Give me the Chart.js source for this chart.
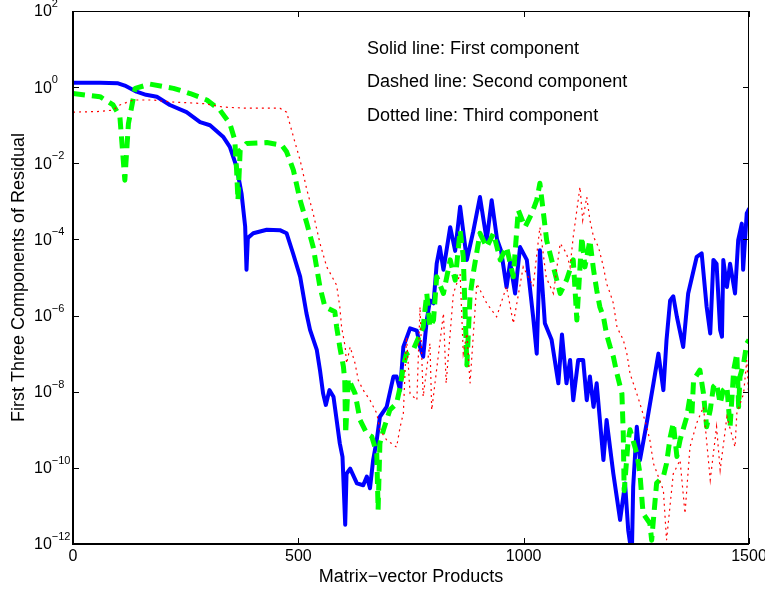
<!DOCTYPE html>
<html>
<head>
<meta charset="utf-8">
<script src="https://cdn.jsdelivr.net/npm/chart.js@4.4.1/dist/chart.umd.min.js"></script>
<style>
  html, body { margin: 0; padding: 0; background: #fff; }
  canvas { display: block; }
</style>
</head>
<body>
<canvas id="residualChart" width="765" height="590"></canvas>
<script>
// [matrix-vector products, residual component]
const firstComponent = [
  [0,1.3],[60,1.3],[100,1.26],[115,1.1],[141,0.76],[162,0.63],[186,0.56],[215,0.34],[252,0.22],[282,0.12],
  [304,0.1],[333,0.05],[348,0.027],[363,0.008],[374,1.6e-3],[382,2.2e-4],[385,1.6e-5],[388,1.1e-4],[400,1.45e-4],
  [430,1.8e-4],[459,1.75e-4],[474,1.45e-4],[488,4.4e-5],[504,1.05e-5],[518,1.15e-6],[526,4.2e-7],[541,1.25e-7],
  [548,3.7e-8],[555,8.9e-9],[561,4.5e-9],[569,1.1e-8],[578,7.4e-9],[585,1.8e-9],[592,4.4e-10],[598,1.95e-10],
  [604,3.2e-12],[607,7e-11],[615,9.5e-11],[630,3.9e-11],[644,3.5e-11],[652,5.9e-11],[659,2.9e-11],[666,1.6e-10],
  [674,5.4e-10],[681,2.2e-9],[696,4e-9],[711,2.5e-8],[718,2.5e-8],[726,1.1e-8],[733,1.5e-7],[748,4.6e-7],[763,4e-7],
  [770,1.5e-7],[777,8.3e-8],[785,7.6e-7],[792,2.5e-6],[800,2.1e-6],[807,2.3e-5],[814,6.3e-5],[822,1.6e-5],
  [837,2.1e-4],[848,5e-5],[859,7.2e-4],[874,2.9e-5],[888,1.6e-4],[903,1.3e-3],[918,9.5e-5],[929,1.07e-3],
  [941,1e-4],[950,5e-5],[962,5.6e-6],[970,2.5e-5],[981,3.8e-6],[992,6.3e-5],[1007,2.9e-5],[1021,9.3e-7],
  [1029,1e-7],[1036,5.2e-5],[1047,6.3e-7],[1062,2.3e-7],[1077,1.66e-8],[1085,3.2e-7],[1095,1.66e-8],[1103,6.8e-8],
  [1110,6e-9],[1121,6.8e-8],[1132,6.8e-8],[1140,6e-9],[1147,2.5e-8],[1155,4e-9],[1162,1.66e-8],[1177,1.6e-10],
  [1184,1.8e-9],[1199,7e-11],[1214,4.3e-12],[1225,3.9e-11],[1232,2.3e-12],[1240,5e-13],[1243,3.2e-11],[1251,1.2e-9],
  [1258,1.6e-10],[1273,1.5e-9],[1288,1.66e-8],[1299,1e-7],[1310,1.1e-8],[1317,2.3e-7],[1325,2.5e-6],[1332,3.2e-6],
  [1340,9.3e-7],[1354,1.5e-7],[1365,3.8e-6],[1384,3.5e-5],[1395,4.3e-5],[1406,1.7e-6],[1414,3.4e-7],[1421,2.9e-5],
  [1428,2.3e-5],[1436,4.2e-7],[1440,2.8e-7],[1443,2.9e-5],[1451,5.6e-6],[1458,2.3e-5],[1469,3.8e-6],[1476,9.5e-5],
  [1484,2.6e-4],[1487,1.6e-5],[1495,4.8e-4],[1500,6.3e-4]
];

const secondComponent = [
  [0,0.68],[60,0.56],[89,0.34],[104,0.17],[115,3.6e-3],[123,0.11],[138,0.93],[171,1.2],[223,0.93],[260,0.68],
  [297,0.46],[326,0.25],[348,0.11],[359,0.041],[363,6.6e-3],[366,1.07e-3],[371,0.022],[385,0.033],[430,0.035],
  [463,0.03],[474,0.02],[489,6.6e-3],[504,1.07e-3],[519,2.6e-4],[533,6.3e-5],[548,5.6e-6],[559,1.7e-6],
  [581,1.26e-6],[585,5e-7],[592,1.5e-7],[600,4.6e-8],[603,2e-8],[605,7.9e-10],[611,2.2e-8],[626,8.9e-9],
  [637,1.8e-9],[652,7.9e-10],[663,6.6e-10],[674,2.4e-10],[677,7.9e-12],[681,4.4e-10],[689,1e-9],[703,3.3e-9],
  [718,4.9e-9],[726,1.35e-8],[733,4.6e-8],[740,1e-7],[755,1.26e-7],[777,5e-7],[785,3.8e-6],[792,5e-7],[800,7.6e-7],
  [807,1.05e-5],[822,3.8e-6],[837,2.9e-5],[848,8.5e-6],[859,1.74e-4],[866,3.5e-5],[874,5e-8],[881,3.2e-6],
  [888,1.26e-5],[903,1.45e-4],[918,6.3e-5],[933,1.45e-4],[948,2.9e-5],[962,6.3e-5],[977,1.05e-5],[988,5.9e-4],
  [1003,2.1e-4],[1018,4.8e-4],[1029,1.07e-3],[1036,3e-3],[1051,9.5e-5],[1066,1.9e-5],[1081,3.8e-6],[1095,8.5e-6],
  [1110,2.9e-5],[1118,7.6e-7],[1129,1.17e-4],[1136,1.9e-5],[1147,9.5e-5],[1155,1.6e-5],[1162,4.7e-6],[1169,1.7e-6],
  [1177,9.3e-7],[1184,3.2e-7],[1192,1.5e-7],[1199,8.3e-8],[1207,3e-8],[1218,8.9e-9],[1221,7.9e-10],[1223,2.5e-11],
  [1232,5.4e-10],[1236,1e-9],[1251,2.4e-10],[1258,7e-11],[1265,6.3e-12],[1280,3.5e-12],[1284,1.26e-12],[1295,4e-11],
  [1310,5.9e-11],[1317,1.3e-10],[1325,6.3e-10],[1332,1.5e-9],[1340,2e-10],[1347,5.4e-10],[1362,2.2e-9],[1369,7.4e-9],
  [1373,2.2e-9],[1377,2e-8],[1391,3.7e-8],[1399,8.9e-9],[1406,1.2e-9],[1414,3.3e-9],[1421,1.35e-8],[1428,1.66e-8],
  [1436,4.9e-9],[1443,1.1e-8],[1451,1.35e-8],[1458,1.2e-9],[1466,3.7e-8],[1473,1e-7],[1477,4e-9],[1480,2.5e-8],
  [1488,5.5e-8],[1495,1.86e-7],[1500,2.3e-7]
];

const thirdComponent = [
  [0,0.22],[60,0.23],[89,0.25],[104,0.34],[134,0.46],[178,0.46],[215,0.41],[289,0.37],[333,0.3],[385,0.28],
  [459,0.28],[474,0.22],[489,0.05],[504,0.012],[519,2e-3],[533,4.8e-4],[548,7.9e-5],[563,1.9e-5],[585,6.3e-6],
  [592,1.7e-6],[596,5e-7],[604,1.5e-7],[607,5.5e-8],[615,1.5e-7],[626,5.5e-8],[633,2e-8],[644,1.1e-8],[659,6e-9],
  [674,2.7e-9],[681,1e-9],[696,5.4e-10],[718,3.5e-10],[726,1.2e-9],[733,2.7e-9],[740,2.75e-7],[748,8.9e-9],
  [763,6e-9],[770,1.7e-6],[777,7.4e-9],[792,1.86e-7],[796,3.3e-9],[822,1.15e-6],[828,1.66e-8],[844,3.8e-6],
  [859,1.26e-5],[866,1e-7],[874,3.4e-7],[881,1.66e-8],[896,6.9e-6],[918,2.1e-6],[940,9.3e-7],[962,5.8e-6],
  [977,6.2e-7],[999,1.9e-5],[1021,5.8e-6],[1036,2.1e-4],[1050,1e-5],[1066,3.8e-6],[1081,7.9e-5],[1095,4.3e-5],
  [1103,1.9e-5],[1110,1.17e-4],[1118,5.9e-4],[1125,2.4e-3],[1131,3.2e-4],[1140,1.3e-3],[1147,3.2e-4],[1155,1.17e-4],
  [1166,6.3e-5],[1177,1.9e-5],[1184,6.9e-6],[1192,3.8e-6],[1199,2.1e-6],[1207,5e-7],[1221,2.3e-7],[1229,1e-7],
  [1236,3e-8],[1251,8.9e-9],[1258,4.9e-9],[1273,1.2e-9],[1280,5.4e-10],[1288,1.3e-10],[1310,2.6e-11],[1317,1.26e-12],
  [1332,7e-11],[1347,1.6e-10],[1358,6.3e-12],[1369,3.5e-10],[1384,1.5e-9],[1399,4e-9],[1414,4.8e-11],[1428,1.2e-9],
  [1436,8.7e-11],[1451,2.2e-9],[1469,3.5e-10],[1473,2.7e-9],[1488,8.9e-9],[1495,6.8e-8],[1500,6e-9]
];

const xTicks = [0, 500, 1000, 1500];
const yTicks = [1e-12, 1e-10, 1e-8, 1e-6, 1e-4, 1e-2, 1e0, 1e2];
const yTickExp = ['-12', '-10', '-8', '-6', '-4', '-2', '0', '2'];
const notes = ['Solid line: First component', 'Dashed line: Second component', 'Dotted line: Third component'];
const xTitle = 'Matrix\u2212vector Products';
const yTitle = 'First Three Components of Residual';

const FONT = '"Liberation Sans", Arial, Helvetica, sans-serif';

function toPoints(pairs) {
  return pairs.map(p => ({ x: p[0], y: p[1] }));
}

// matlab style box, inward ticks, 10^n labels, titles and the note text
const frame = {
  id: 'frame',
  afterDraw(chart) {
    const { ctx, chartArea: a } = chart;
    const sx = chart.scales.x, sy = chart.scales.y;
    ctx.save();
    ctx.strokeStyle = '#000';
    ctx.lineWidth = 1;
    ctx.strokeRect(a.left + 0.5, a.top + 0.5, a.right - a.left - 1, a.bottom - a.top - 1);
    ctx.lineWidth = 2;
    ctx.beginPath();
    ctx.moveTo(a.left, a.top);
    ctx.lineTo(a.left, a.bottom);
    ctx.lineTo(a.right, a.bottom);
    ctx.stroke();

    ctx.lineWidth = 1;
    ctx.beginPath();
    xTicks.forEach(v => {
      const px = Math.round(sx.getPixelForValue(v)) + 0.5;
      ctx.moveTo(px, a.bottom); ctx.lineTo(px, a.bottom - 6);
      ctx.moveTo(px, a.top); ctx.lineTo(px, a.top + 6);
    });
    yTicks.forEach(v => {
      const py = Math.round(sy.getPixelForValue(v)) + 0.5;
      ctx.moveTo(a.left, py); ctx.lineTo(a.left + 6, py);
      ctx.moveTo(a.right, py); ctx.lineTo(a.right - 6, py);
    });
    ctx.stroke();

    ctx.fillStyle = '#000';
    ctx.textBaseline = 'middle';
    ctx.font = '16px ' + FONT;
    ctx.textAlign = 'center';
    xTicks.forEach(v => {
      ctx.fillText(String(v), sx.getPixelForValue(v), a.bottom + 13);
    });

    ctx.textAlign = 'left';
    yTicks.forEach((v, i) => {
      const py = sy.getPixelForValue(v);
      ctx.font = '16px ' + FONT;
      ctx.fillText('10', 34, py + 1);
      const w = ctx.measureText('10').width;
      ctx.font = '11px ' + FONT;
      ctx.fillText(yTickExp[i].replace('-', '\u2212'), 34 + w, py - 7);
    });

    ctx.font = '18px ' + FONT;
    ctx.textAlign = 'center';
    ctx.fillText(xTitle, (a.left + a.right) / 2, a.bottom + 33);
    ctx.save();
    ctx.translate(19, (a.top + a.bottom) / 2);
    ctx.rotate(-Math.PI / 2);
    ctx.fillText(yTitle, 0, 0);
    ctx.restore();

    ctx.textAlign = 'left';
    notes.forEach((t, i) => {
      ctx.fillText(t, a.left + 294, a.top + 38 + i * 33.5);
    });
    ctx.restore();
  }
};

const ctx = document.getElementById('residualChart').getContext('2d');
new Chart(ctx, {
  type: 'line',
  data: {
    datasets: [{
      label: 'First component',
      data: toPoints(firstComponent),
      borderColor: '#0000ff',
      borderWidth: 4,
      borderJoinStyle: 'round',
      borderCapStyle: 'round',
      order: 3
    }, {
      label: 'Second component',
      data: toPoints(secondComponent),
      borderColor: '#00ff00',
      borderWidth: 5,
      borderDash: [12, 7],
      borderJoinStyle: 'round',
      order: 2
    }, {
      label: 'Third component',
      data: toPoints(thirdComponent),
      borderColor: '#ff0000',
      borderWidth: 1.2,
      borderDash: [2, 4],
      order: 1
    }]
  },
  options: {
    responsive: false,
    animation: false,
    devicePixelRatio: 1,
    layout: { padding: { left: 73, right: 16, top: 11, bottom: 46 } },
    elements: {
      point: { radius: 0 },
      line: { tension: 0, fill: false }
    },
    plugins: {
      legend: { display: false },
      tooltip: { enabled: false }
    },
    scales: {
      x: { type: 'linear', min: 0, max: 1500, display: false },
      y: { type: 'logarithmic', min: 1e-12, max: 100, display: false }
    }
  },
  plugins: [frame]
});
</script>
</body>
</html>
